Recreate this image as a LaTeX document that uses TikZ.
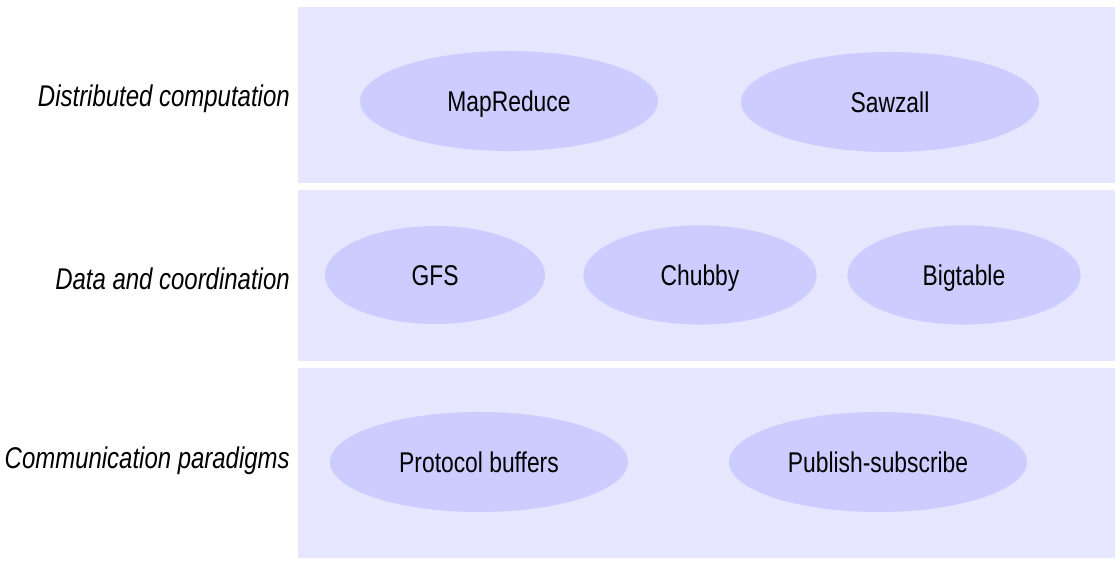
\documentclass[tikz,border=0pt]{standalone}
\usepackage{fontspec}
\setmainfont{Liberation Sans}[FakeStretch=0.8]
\usetikzlibrary{shapes.geometric}
\definecolor{bandfill}{RGB}{230,230,255}
\definecolor{ovalfill}{RGB}{204,204,255}
\tikzset{
  layer/.style={fill=bandfill, draw=none},
  part/.style={ellipse, fill=ovalfill, draw=none, inner sep=0pt,
    text height=14.6pt, text depth=0pt,
    minimum width=7.45cm, minimum height=2.5cm, font=\fontsize{20.3}{24}\selectfont},
  layername/.style={anchor=east, inner sep=0pt, font=\fontsize{21.3}{25}\selectfont\itshape}
}
\begin{document}
\begin{tikzpicture}[x=0.025cm, y=-0.025cm]
      \useasboundingbox (0,0) rectangle (1120,565);
      \filldraw[layer] (298,7)   rectangle (1115,183);
      \filldraw[layer] (298,190) rectangle (1115,361);
      \filldraw[layer] (298,368) rectangle (1115,558);
      \node (comp) [layername] at (290,99)  {Distributed computation};
      \node (data) [layername] at (290,279) {Data and coordination};
      \node (comm) [layername] at (290,461) {Communication paradigms};
      \node (mapreduce) [part] at (509,101) {MapReduce};
      \node (sawzall)   [part] at (890,102) {Sawzall};
      \node (gfs)       [part, minimum width=5.5cm, minimum height=2.45cm]  at (435,275) {GFS};
      \node (chubby)    [part, minimum width=5.83cm, minimum height=2.48cm] at (700,275) {Chubby};
      \node (bigtable)  [part, minimum width=5.83cm, minimum height=2.48cm] at (964,275) {Bigtable};
      \node (protobuf)  [part] at (479,462) {Protocol buffers};
      \node (pubsub)    [part] at (878,462) {Publish-subscribe};
    \end{tikzpicture}
\end{document}
